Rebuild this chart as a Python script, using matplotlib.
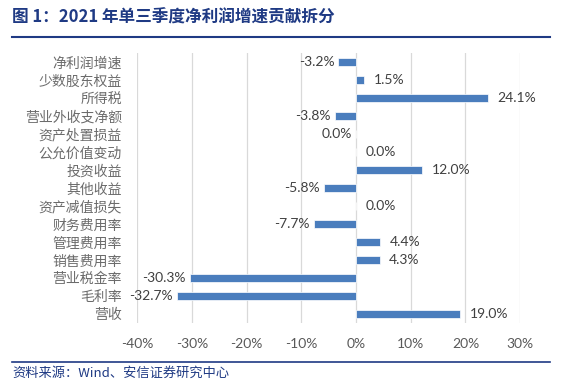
import matplotlib
matplotlib.use('Agg')
import matplotlib.pyplot as plt
from matplotlib.lines import Line2D

plt.rcParams['font.family'] = ['Noto Sans CJK SC', 'DejaVu Sans']

categories = ['净利润增速', '少数股东权益', '所得税', '营业外收支净额', '资产处置损益',
              '公允价值变动', '投资收益', '其他收益', '资产减值损失', '财务费用率',
              '管理费用率', '销售费用率', '营业税金率', '毛利率', '营收']
values = [-3.2, 1.5, 24.1, -3.8, -0.02, 0.0, 12.0, -5.8, 0.0, -7.7,
          4.4, 4.3, -30.3, -32.7, 19.0]
xticks = [-40, -30, -20, -10, 0, 10, 20, 30]

title_color = '#1F3A84'
bar_color = '#4A7DBD'
gray = '#595959'

fig = plt.figure(figsize=(5.71, 3.90), dpi=100)
ax = fig.add_axes([0.240, 0.172, 0.671, 0.692])

pos = list(range(len(categories)))
ax.barh(pos, values, height=0.4, color=bar_color, edgecolor='white', linewidth=0.5, zorder=3)

ax.set_xlim(-40, 30)
ax.set_ylim(len(categories) - 0.5, -0.5)
ax.set_xticks(xticks)
ax.set_xticklabels([f'{t}%' for t in xticks], family=['Lato', 'Noto Sans CJK SC'],
                   fontsize=10, color=gray)
ax.set_yticks(pos)
ax.set_yticklabels(categories, fontsize=10, color='#6b6b6b')
ax.tick_params(length=0)
ax.tick_params(axis='y', pad=11)
ax.tick_params(axis='x', pad=11)
ax.xaxis.grid(True, color='#D9D9D9', linewidth=0.9, zorder=0)
for s in ax.spines.values():
    s.set_visible(False)

for p, v in zip(pos, values):
    txt = f'{abs(v):.1f}%' if round(v, 1) == 0 else f'{v:.1f}%'
    if v < 0:
        ax.annotate(txt, xy=(v, p), xytext=(-3, 0), textcoords='offset points',
                    ha='right', va='center', fontsize=10, color='#404040', family='Lato')
    else:
        ax.annotate(txt, xy=(v, p), xytext=(7, 0), textcoords='offset points',
                    ha='left', va='center', fontsize=10, color='#404040', family='Lato')

fig.text(12 / 571, 1 - 18 / 390, '图 1：2021 年单三季度净利润增速贡献拆分', fontsize=12,
         fontweight='bold', color=title_color, va='center', ha='left')
fig.add_artist(Line2D([12 / 571, 550 / 571], [1 - 37 / 390] * 2, color=title_color, linewidth=1.5))
fig.add_artist(Line2D([12 / 571, 550 / 571], [1 - 362 / 390] * 2, color=title_color, linewidth=1.2))
fig.text(12 / 571, 1 - 373 / 390, '资料来源：Wind、安信证券研究中心', fontsize=9.5,
         style='italic', color=title_color, va='center', ha='left')

fig.savefig('out.png', dpi=100)
